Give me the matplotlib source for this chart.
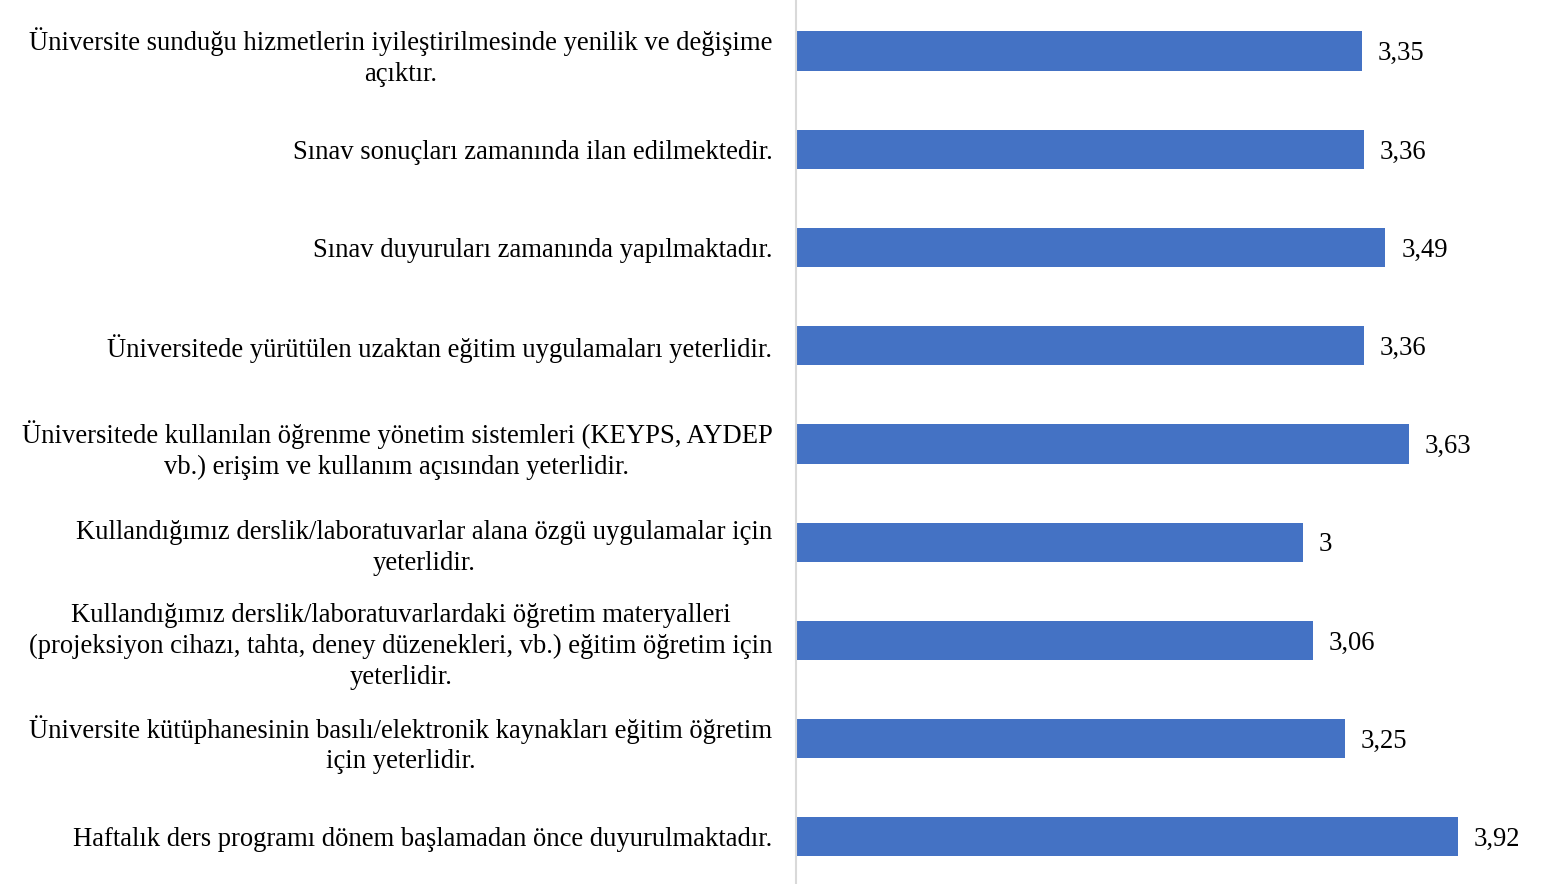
import matplotlib.pyplot as plt

plt.rcParams['font.family'] = ['Liberation Serif', 'DejaVu Serif']

# Survey items (top to bottom) and their mean scores
items = [
    'Üniversite sunduğu hizmetlerin iyileştirilmesinde yenilik ve değişime\naçıktır.',
    'Sınav sonuçları zamanında ilan edilmektedir.',
    'Sınav duyuruları zamanında yapılmaktadır.',
    'Üniversitede yürütülen uzaktan eğitim uygulamaları yeterlidir.',
    'Üniversitede kullanılan öğrenme yönetim sistemleri (KEYPS, AYDEP\nvb.) erişim ve kullanım açısından yeterlidir.',
    'Kullandığımız derslik/laboratuvarlar alana özgü uygulamalar için\nyeterlidir.',
    'Kullandığımız derslik/laboratuvarlardaki öğretim materyalleri\n(projeksiyon cihazı, tahta, deney düzenekleri, vb.) eğitim öğretim için\nyeterlidir.',
    'Üniversite kütüphanesinin basılı/elektronik kaynakları eğitim öğretim\niçin yeterlidir.',
    'Haftalık ders programı dönem başlamadan önce duyurulmaktadır.',
]
scores = [3.35, 3.36, 3.49, 3.36, 3.63, 3.00, 3.06, 3.25, 3.92]
score_labels = ['3,35', '3,36', '3,49', '3,36', '3,63', '3', '3,06', '3,25', '3,92']

fig = plt.figure(figsize=(15.62, 8.84), dpi=100)
ax = fig.add_axes([796 / 1562, 0, 1 - 796 / 1562, 1])

y = range(len(items))
ax.barh(y, scores, height=0.4, color='#4472C4')
ax.set_ylim(len(items) - 0.52, -0.52)
ax.set_xlim(0, 766 / 168.9)

for i, (v, lab) in enumerate(zip(scores, score_labels)):
    ax.annotate(lab, (v, i), xytext=(11.5, -2), textcoords='offset points',
                va='center', ha='left', fontsize=19.2)

ax.set_yticks(list(y))
ax.set_yticklabels(items, fontsize=19.2, multialignment='center', linespacing=1.3)
ax.tick_params(axis='y', length=0, pad=17)
ax.set_xticks([])

for s in ['top', 'right', 'bottom']:
    ax.spines[s].set_visible(False)
ax.spines['left'].set_color('#D9D9D9')
ax.spines['left'].set_linewidth(1.5)

fig.savefig('out.png', dpi=100)
